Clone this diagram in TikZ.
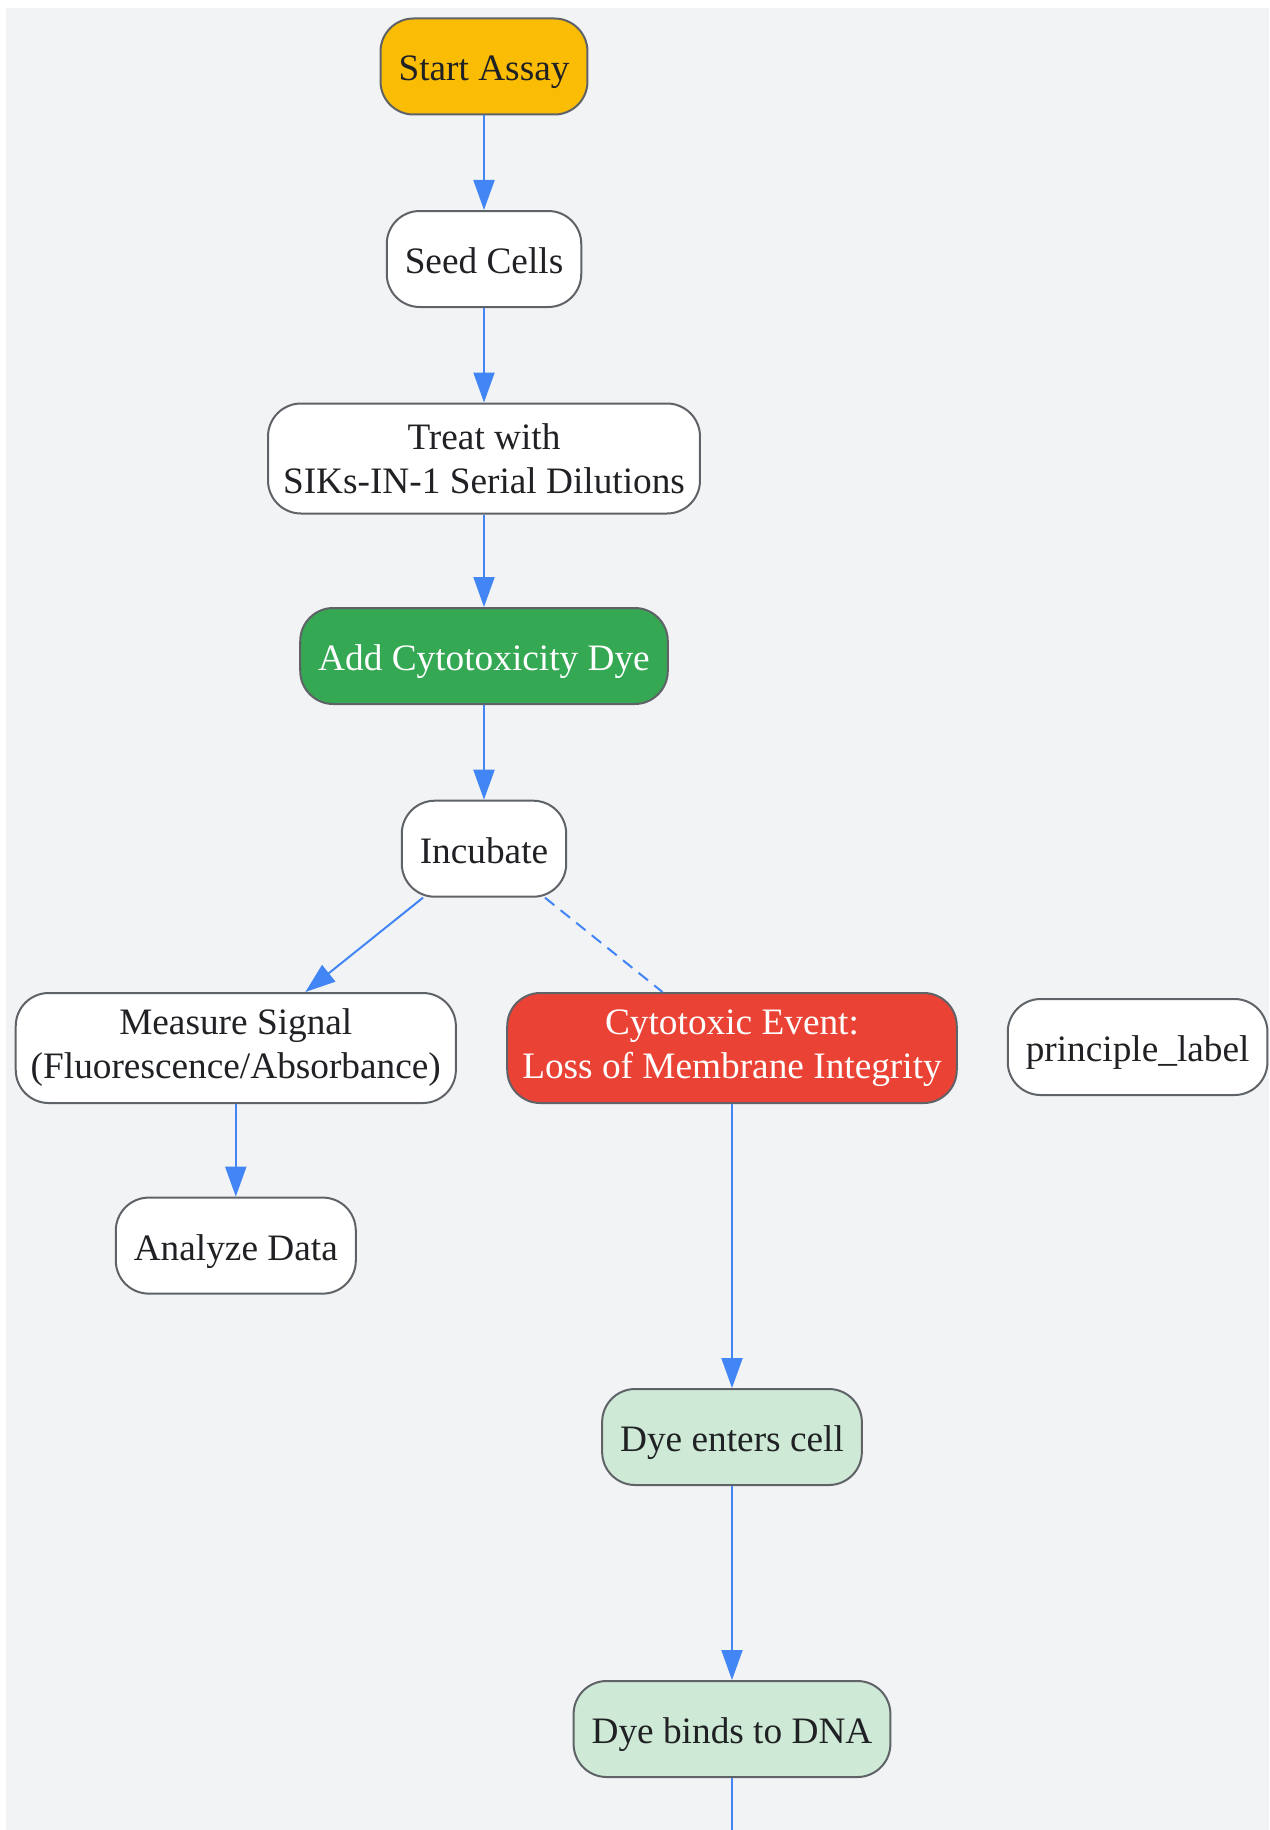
\documentclass[tikz,border=0pt]{standalone}
\usepackage{fontspec}
\setmainfont{Liberation Serif}
\usetikzlibrary{arrows.meta}

\definecolor{bg}{HTML}{F1F3F4}
\definecolor{edgeblue}{HTML}{4285F4}
\definecolor{boxline}{HTML}{5F6368}
\definecolor{ink}{HTML}{202124}
\definecolor{startyellow}{HTML}{FBBC04}
\definecolor{dyegreen}{HTML}{34A853}
\definecolor{toxred}{HTML}{EA4335}
\definecolor{palegreen}{HTML}{CEEAD6}

\begin{document}
\begin{tikzpicture}[x=1pt,y=-1pt,
  box/.style={draw=boxline,line width=2pt,fill=white,rounded corners=33pt,
    text=ink,inner xsep=18pt,inner ysep=8pt,minimum height=96pt,
    text height=36pt,text depth=7pt,font=\fontsize{37.3}{44}\selectfont},
  tall/.style={align=center,minimum height=110pt,text height=,text depth=,
    inner xsep=15pt},
  flow/.style={draw=edgeblue,line width=2pt,-{Triangle[length=30pt,width=21pt]}},
  hint/.style={draw=edgeblue,line width=2pt,dash pattern=on 12pt off 8pt}]
\useasboundingbox (0,0) rectangle (1269,1830);
\fill[bg] (6,8) rectangle (1269,1830);
% assay steps
\node[box,fill=startyellow] (start) at (484,66.5) {Start Assay};
\node[box] (seed) at (484,259) {Seed Cells};
\node[box,tall] (treat) at (484,458.5) {Treat with\\SIKs-IN-1 Serial Dilutions};
\node[box,fill=dyegreen,text=white] (dye) at (484,656) {Add Cytotoxicity Dye};
\node[box] (incubate) at (484,848.7) {Incubate};
\node[box,tall] (measure) at (235.8,1048) {Measure Signal\\(Fluorescence/Absorbance)};
\node[box] (analyze) at (235.8,1245.6) {Analyze Data};
% principle
\node[box,tall,fill=toxred,text=white] (event) at (732,1048) {Cytotoxic Event:\\Loss of Membrane Integrity};
\node[box] (plabel) at (1137.6,1047) {principle\_label};
\node[box,fill=palegreen] (enters) at (732,1437) {Dye enters cell};
\node[box,fill=palegreen] (binds) at (732,1729) {Dye binds to DNA};
\coordinate (out) at (732,1830);
% edges
\draw[flow] (start) -- (seed);
\draw[flow] (seed) -- (treat);
\draw[flow] (treat) -- (dye);
\draw[flow] (dye) -- (incubate);
\draw[flow] (incubate) -- (measure);
\draw[flow] (measure) -- (analyze);
\draw[hint] (incubate) -- (event);
\draw[flow] (event) -- (enters);
\draw[flow] (enters) -- (binds);
\draw[draw=edgeblue,line width=2pt] (binds) -- (out);
\end{tikzpicture}
\end{document}
